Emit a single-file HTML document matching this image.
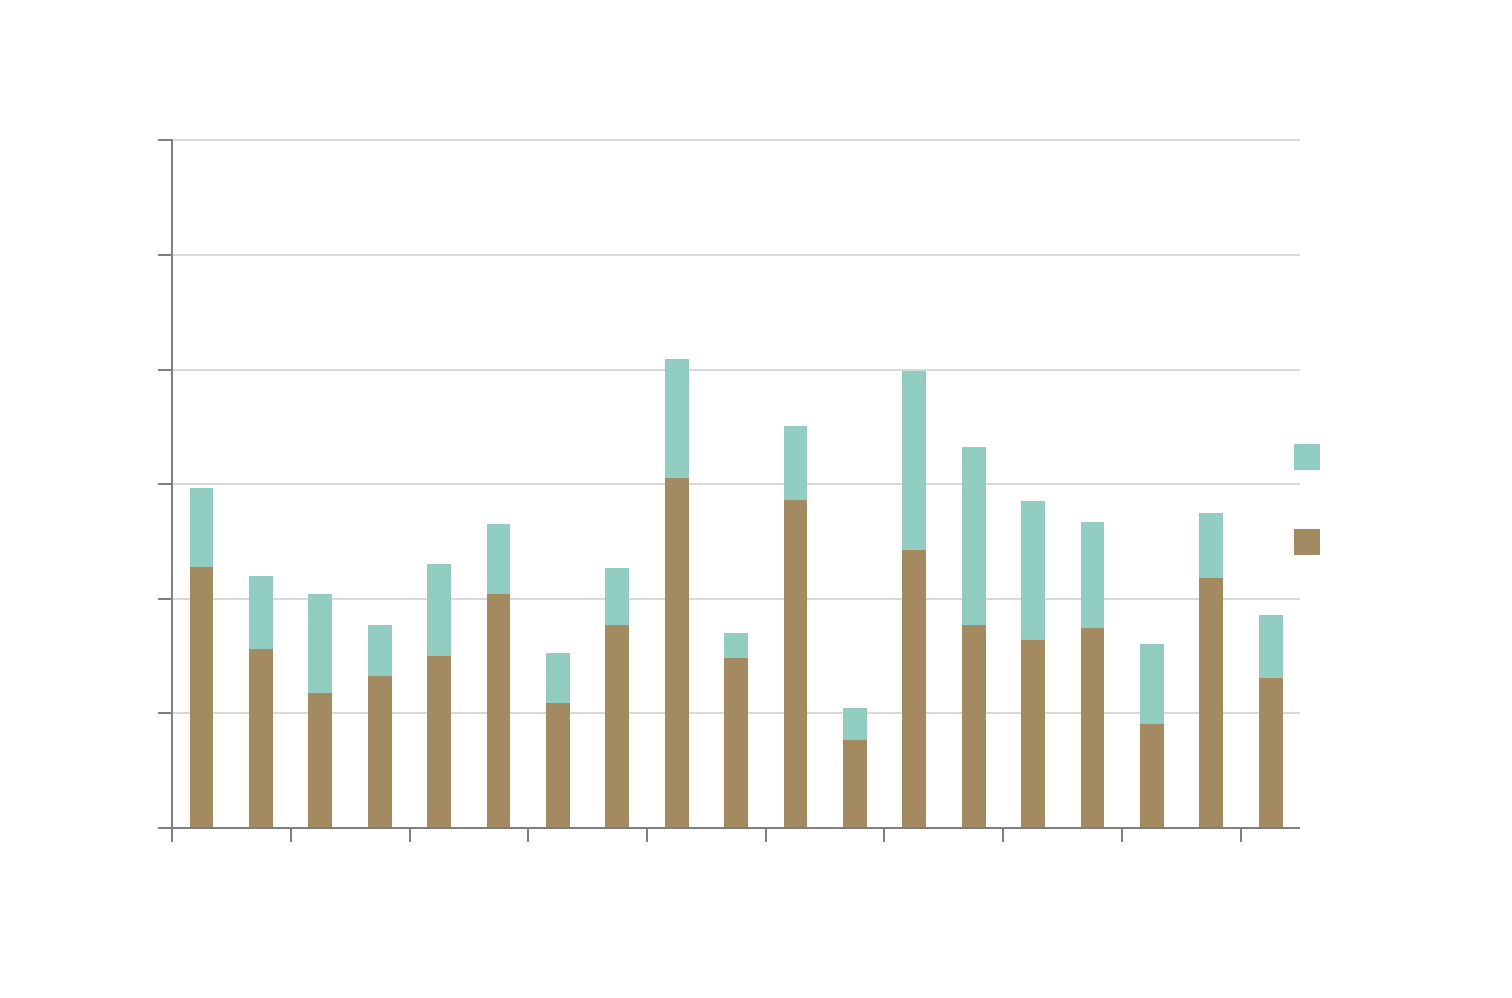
<!DOCTYPE html>
<html><head><meta charset="utf-8"><style>html,body{margin:0;padding:0;background:#fff}svg{display:block}</style></head>
<body>
<svg width="1512" height="998" viewBox="0 0 1512 998" xmlns="http://www.w3.org/2000/svg">
<g stroke="#d9d9d9" stroke-width="2">
<line x1="172" y1="140" x2="1300" y2="140"/>
<line x1="172" y1="255" x2="1300" y2="255"/>
<line x1="172" y1="370" x2="1300" y2="370"/>
<line x1="172" y1="484" x2="1300" y2="484"/>
<line x1="172" y1="599" x2="1300" y2="599"/>
<line x1="172" y1="713" x2="1300" y2="713"/>
</g>
<g id="bars"></g>
<g stroke="#7f7f7f" stroke-width="2">
<line x1="172" y1="139" x2="172" y2="842"/>
<line x1="158" y1="828" x2="1300" y2="828"/>
<line x1="158" y1="140" x2="172" y2="140"/>
<line x1="158" y1="255" x2="172" y2="255"/>
<line x1="158" y1="370" x2="172" y2="370"/>
<line x1="158" y1="484" x2="172" y2="484"/>
<line x1="158" y1="599" x2="172" y2="599"/>
<line x1="158" y1="713" x2="172" y2="713"/>
<line x1="291" y1="828" x2="291" y2="842"/>
<line x1="410" y1="828" x2="410" y2="842"/>
<line x1="528" y1="828" x2="528" y2="842"/>
<line x1="647" y1="828" x2="647" y2="842"/>
<line x1="766" y1="828" x2="766" y2="842"/>
<line x1="884" y1="828" x2="884" y2="842"/>
<line x1="1003" y1="828" x2="1003" y2="842"/>
<line x1="1122" y1="828" x2="1122" y2="842"/>
<line x1="1241" y1="828" x2="1241" y2="842"/>
</g>
<rect x="1294" y="444" width="26" height="26" fill="#92cdc1"/>
<rect x="1294" y="529" width="26" height="26" fill="#a38a61"/>
<g>
<rect x="190" y="488" width="23" height="79" fill="#92cdc1"/><rect x="190" y="567" width="23" height="261" fill="#a38a61"/>
<rect x="249" y="576" width="24" height="73" fill="#92cdc1"/><rect x="249" y="649" width="24" height="179" fill="#a38a61"/>
<rect x="308" y="594" width="24" height="99" fill="#92cdc1"/><rect x="308" y="693" width="24" height="135" fill="#a38a61"/>
<rect x="368" y="625" width="24" height="51" fill="#92cdc1"/><rect x="368" y="676" width="24" height="152" fill="#a38a61"/>
<rect x="427" y="564" width="24" height="92" fill="#92cdc1"/><rect x="427" y="656" width="24" height="172" fill="#a38a61"/>
<rect x="487" y="524" width="23" height="70" fill="#92cdc1"/><rect x="487" y="594" width="23" height="234" fill="#a38a61"/>
<rect x="546" y="653" width="24" height="50" fill="#92cdc1"/><rect x="546" y="703" width="24" height="125" fill="#a38a61"/>
<rect x="605" y="568" width="24" height="57" fill="#92cdc1"/><rect x="605" y="625" width="24" height="203" fill="#a38a61"/>
<rect x="665" y="359" width="24" height="119" fill="#92cdc1"/><rect x="665" y="478" width="24" height="350" fill="#a38a61"/>
<rect x="724" y="633" width="24" height="25" fill="#92cdc1"/><rect x="724" y="658" width="24" height="170" fill="#a38a61"/>
<rect x="784" y="426" width="23" height="74" fill="#92cdc1"/><rect x="784" y="500" width="23" height="328" fill="#a38a61"/>
<rect x="843" y="708" width="24" height="32" fill="#92cdc1"/><rect x="843" y="740" width="24" height="88" fill="#a38a61"/>
<rect x="902" y="371" width="24" height="179" fill="#92cdc1"/><rect x="902" y="550" width="24" height="278" fill="#a38a61"/>
<rect x="962" y="447" width="24" height="178" fill="#92cdc1"/><rect x="962" y="625" width="24" height="203" fill="#a38a61"/>
<rect x="1021" y="501" width="24" height="139" fill="#92cdc1"/><rect x="1021" y="640" width="24" height="188" fill="#a38a61"/>
<rect x="1081" y="522" width="23" height="106" fill="#92cdc1"/><rect x="1081" y="628" width="23" height="200" fill="#a38a61"/>
<rect x="1140" y="644" width="24" height="80" fill="#92cdc1"/><rect x="1140" y="724" width="24" height="104" fill="#a38a61"/>
<rect x="1199" y="513" width="24" height="65" fill="#92cdc1"/><rect x="1199" y="578" width="24" height="250" fill="#a38a61"/>
<rect x="1259" y="615" width="24" height="63" fill="#92cdc1"/><rect x="1259" y="678" width="24" height="150" fill="#a38a61"/>
</g>
<g stroke="#7f7f7f" stroke-width="2"><line x1="158" y1="828" x2="1300" y2="828"/></g>
</svg>
</body></html>
